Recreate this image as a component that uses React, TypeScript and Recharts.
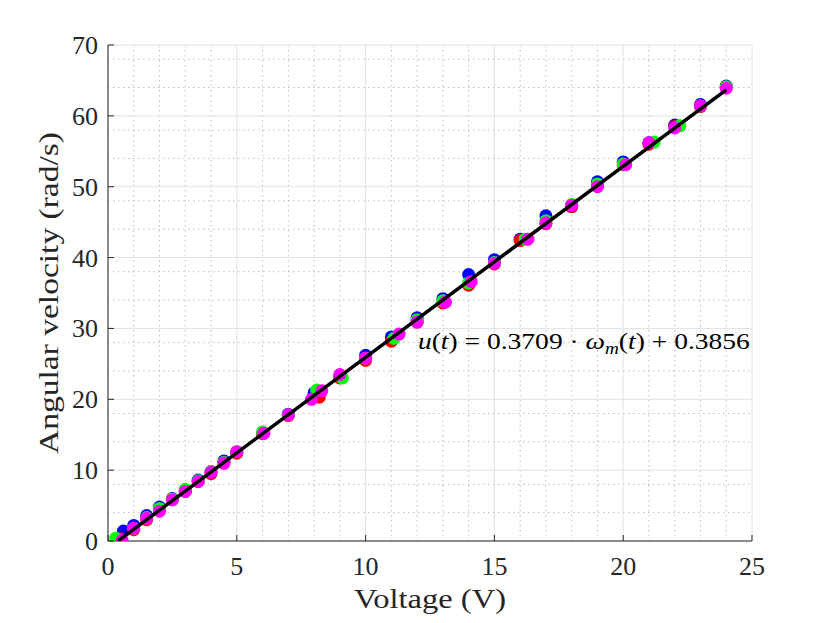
import React from 'react';
import { ScatterChart, Scatter, XAxis, YAxis, CartesianGrid, Label, ReferenceDot } from 'recharts';

// axis ticks (major + minor grid)
const xTicks = [0, 5, 10, 15, 20, 25];
const yTicks = [0, 10, 20, 30, 40, 50, 60, 70];
const xMinor = [1, 2, 3, 4, 6, 7, 8, 9, 11, 12, 13, 14, 16, 17, 18, 19, 21, 22, 23, 24];
const yMinor = [2, 4, 6, 8, 12, 14, 16, 18, 22, 24, 26, 28, 32, 34, 36, 38, 42, 44, 46, 48, 52, 54, 56, 58, 62, 64, 66, 68];

// measured runs: v = voltage (V), w = angular velocity (rad/s)
const blueRun = [
  { v: 0.6, w: 1.4 }, { v: 1, w: 2.2 }, { v: 1.5, w: 3.6 }, { v: 2, w: 4.8 }, { v: 2.5, w: 6.0 },
  { v: 3, w: 7.1 }, { v: 3.5, w: 8.6 }, { v: 4, w: 9.8 }, { v: 4.5, w: 11.3 }, { v: 5, w: 12.5 },
  { v: 6, w: 15.2 }, { v: 7, w: 17.9 }, { v: 8, w: 20.9 }, { v: 9, w: 23.3 }, { v: 10, w: 26.2 },
  { v: 11, w: 28.8 }, { v: 12, w: 31.5 }, { v: 13, w: 34.2 }, { v: 14, w: 37.6 }, { v: 15, w: 39.7 },
  { v: 16, w: 42.6 }, { v: 17, w: 45.9 }, { v: 18, w: 47.2 }, { v: 19, w: 50.7 }, { v: 20, w: 53.5 },
  { v: 21, w: 56.2 }, { v: 22, w: 58.7 }, { v: 23, w: 61.6 }, { v: 24, w: 64.2 },
];
const redRun = [
  { v: 0.5, w: 0.3 }, { v: 1, w: 1.6 }, { v: 1.5, w: 3.0 }, { v: 2, w: 4.4 }, { v: 2.5, w: 5.9 },
  { v: 3, w: 7.0 }, { v: 3.5, w: 8.4 }, { v: 4, w: 9.5 }, { v: 4.5, w: 11.0 }, { v: 5, w: 12.4 },
  { v: 6, w: 15.2 }, { v: 7, w: 17.7 }, { v: 8.2, w: 20.3 }, { v: 9, w: 23.0 }, { v: 10, w: 25.5 },
  { v: 11, w: 28.2 }, { v: 12, w: 30.9 }, { v: 13, w: 33.6 }, { v: 14, w: 36.1 }, { v: 15, w: 39.1 },
  { v: 16, w: 42.4 }, { v: 17, w: 44.8 }, { v: 18, w: 47.2 }, { v: 19, w: 50.1 }, { v: 20, w: 53.1 },
  { v: 21, w: 56.0 }, { v: 22, w: 58.5 }, { v: 23, w: 61.3 }, { v: 24, w: 64.0 },
];
const greenRun = [
  { v: 0.3, w: 0.4 }, { v: 1, w: 1.8 }, { v: 1.5, w: 3.3 }, { v: 2, w: 4.6 }, { v: 2.5, w: 5.9 },
  { v: 3, w: 7.3 }, { v: 3.5, w: 8.5 }, { v: 4, w: 9.8 }, { v: 4.5, w: 11.1 }, { v: 5, w: 12.6 },
  { v: 6, w: 15.4 }, { v: 7, w: 17.8 }, { v: 8.1, w: 21.3 }, { v: 9.1, w: 23.0 }, { v: 10, w: 25.8 },
  { v: 11.1, w: 28.6 }, { v: 12, w: 31.2 }, { v: 13, w: 33.9 }, { v: 14, w: 36.4 }, { v: 15, w: 39.3 },
  { v: 16.2, w: 42.6 }, { v: 17, w: 45.2 }, { v: 18, w: 47.5 }, { v: 19, w: 50.4 }, { v: 20, w: 53.2 },
  { v: 21.2, w: 56.3 }, { v: 22.2, w: 58.6 }, { v: 23, w: 61.4 }, { v: 24, w: 64.1 },
];
const magentaRun = [
  { v: 0.55, w: 0.1 }, { v: 1, w: 1.8 }, { v: 1.5, w: 3.2 }, { v: 2, w: 4.2 }, { v: 2.5, w: 5.8 },
  { v: 3, w: 7.0 }, { v: 3.5, w: 8.4 }, { v: 4, w: 9.7 }, { v: 4.5, w: 11.0 }, { v: 5, w: 12.6 },
  { v: 6.05, w: 15.2 }, { v: 7, w: 17.8 }, { v: 7.9, w: 20.0 }, { v: 8.3, w: 21.2 }, { v: 9, w: 23.5 },
  { v: 10, w: 25.8 }, { v: 11.3, w: 29.2 }, { v: 12, w: 30.9 }, { v: 13.1, w: 33.7 }, { v: 14.1, w: 36.6 },
  { v: 15, w: 39.2 }, { v: 16.3, w: 42.6 }, { v: 17, w: 44.9 }, { v: 18, w: 47.4 }, { v: 19, w: 50.0 },
  { v: 20.1, w: 53.1 }, { v: 21, w: 56.2 }, { v: 22, w: 58.3 }, { v: 23, w: 61.4 }, { v: 24, w: 63.9 },
];

// fitted line end points
const fitLine = [{ v: 0.39, w: 0.01 }, { v: 24, w: 63.67 }];

const serif = 'Liberation Serif, DejaVu Serif, serif';
const axisColor = '#262626';

const XTick = ({ x, y, payload }: any) => (
  <g>
    <line x1={x} y1={y} x2={x} y2={y - 6} stroke={axisColor} strokeWidth={1} />
    <text x={x} y={y + 34} textAnchor="middle" fontFamily={serif} fontSize={26} fill={axisColor}>
      {payload.value}
    </text>
  </g>
);

const YTick = ({ x, y, payload }: any) => (
  <g>
    <line x1={x} y1={y} x2={x + 6} y2={y} stroke={axisColor} strokeWidth={1} />
    <text x={x - 10} y={y + 9} textAnchor="end" fontFamily={serif} fontSize={26} fill={axisColor}>
      {payload.value}
    </text>
  </g>
);

const dot = (color: string) => (p: any) => <circle cx={p.cx} cy={p.cy} r={6.5} fill={color} />;

const App = () => {
  return (
    <div style={{ position: 'absolute', left: 0, top: 0, width: 830, height: 623, background: '#fff' }}>
      <ScatterChart width={830} height={623} margin={{ top: 45, right: 78, bottom: 42, left: 48 }}>
        <CartesianGrid stroke="#bdbdbd" strokeDasharray="1.5 3.5" verticalValues={xMinor} horizontalValues={yMinor} />
        <CartesianGrid stroke="#e2e2e2" strokeWidth={1} />
        <XAxis
          type="number"
          dataKey="v"
          domain={[0, 25]}
          ticks={xTicks}
          allowDataOverflow
          height={40}
          tickSize={0}
          tickMargin={0}
          tickLine={false}
          axisLine={{ stroke: axisColor }}
          tick={<XTick />}
        >
          <Label
            content={({ viewBox }: any) => (
              <text
                x={viewBox.x + viewBox.width / 2}
                y={viewBox.y + 67}
                textAnchor="middle"
                fontFamily={serif}
                fontSize={28}
                fill={axisColor}
                textLength={152}
                lengthAdjust="spacingAndGlyphs"
              >
                Voltage (V)
              </text>
            )}
          />
        </XAxis>
        <YAxis
          type="number"
          dataKey="w"
          domain={[0, 70]}
          ticks={yTicks}
          allowDataOverflow
          width={60}
          tickSize={0}
          tickMargin={0}
          tickLine={false}
          axisLine={{ stroke: axisColor }}
          tick={<YTick />}
        >
          <Label
            content={({ viewBox }: any) => {
              const cx = viewBox.x + 10;
              const cy = viewBox.y + viewBox.height / 2;
              return (
                <text
                  x={cx}
                  y={cy}
                  transform={`rotate(-90, ${cx}, ${cy})`}
                  textAnchor="middle"
                  fontFamily={serif}
                  fontSize={28}
                  fill={axisColor}
                  textLength={322}
                  lengthAdjust="spacingAndGlyphs"
                >
                  Angular velocity (rad/s)
                </text>
              );
            }}
          />
        </YAxis>
        <Scatter data={blueRun} fill="#0000ff" shape={dot('#0000ff')} isAnimationActive={false} />
        <Scatter data={redRun} fill="#ff0000" shape={dot('#ff0000')} isAnimationActive={false} />
        <Scatter data={greenRun} fill="#00ff00" shape={dot('#00ff00')} isAnimationActive={false} />
        <Scatter data={magentaRun} fill="#ff00ff" shape={dot('#ff00ff')} isAnimationActive={false} />
        <Scatter
          data={fitLine}
          line={{ stroke: '#000000', strokeWidth: 3.5 }}
          lineType="joint"
          shape={() => <g />}
          isAnimationActive={false}
        />
        <ReferenceDot
          x={12.03}
          y={28.15}
          r={0}
          fill="none"
          stroke="none"
          label={{
            content: ({ viewBox }: any) => (
              <text
                x={viewBox.x}
                y={viewBox.y + 7}
                fontFamily={serif}
                fontSize={23}
                fill="#000"
                textLength={332}
                lengthAdjust="spacingAndGlyphs"
              >
                <tspan fontStyle="italic">u</tspan>(<tspan fontStyle="italic">t</tspan>) = 0.3709 · <tspan fontStyle="italic">ω</tspan>
                <tspan fontStyle="italic" fontSize={16} dy={5}>m</tspan>
                <tspan dy={-5}>(</tspan><tspan fontStyle="italic">t</tspan>) + 0.3856
              </text>
            ),
          }}
        />
      </ScatterChart>
    </div>
  );
};

export default App;
